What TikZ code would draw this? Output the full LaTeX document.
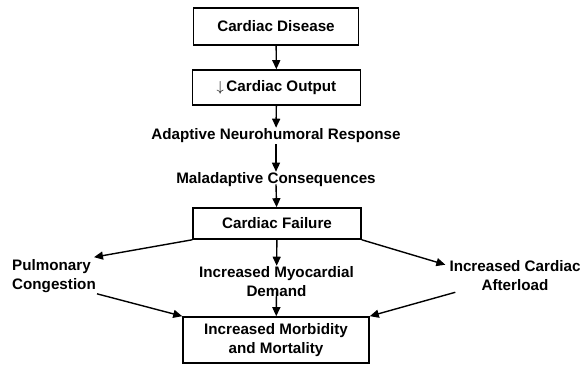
\documentclass[tikz,border=0pt]{standalone}
\usepackage{fontspec}
\setmainfont{Liberation Sans}
\usetikzlibrary{arrows.meta,positioning}
\tikzset{
  box/.style={draw, line width=1.6pt, minimum width=168pt, minimum height=34pt, align=center},
  lbl/.style={align=center, inner sep=1pt},
  arr/.style={line width=1.4pt, -{Triangle[length=9pt,width=8pt]}}
}
\begin{document}
\begin{tikzpicture}[x=1pt,y=-1pt,font=\fontsize{15.2}{19}\selectfont\bfseries]
  \useasboundingbox (0,0) rectangle (583,366);
  \node[box, minimum width=165pt, minimum height=37pt](disease) at (276,26.5) {Cardiac Disease};
  \node[box, minimum height=35pt](output) at (276.5,87.5) {$\downarrow$\,Cardiac Output};
  \node[lbl](adaptive) at (276,136) {Adaptive Neurohumoral Response};
  \node[lbl](maladaptive) at (276,180) {Maladaptive Consequences};
  \node[box, minimum height=31pt](failure) at (277,223.5) {Cardiac Failure};
  \node[lbl, align=left, anchor=west](pulm) at (11,276) {Pulmonary\\Congestion};
  \node[lbl](demand) at (276.5,282) {Increased Myocardial\\Demand};
  \node[lbl](afterload) at (515,276) {Increased Cardiac\\Afterload};
  \node[box, minimum width=186pt, minimum height=46pt](morbid) at (276,340) {Increased Morbidity\\and Mortality};
  \draw[arr](disease)--(output);
  \draw[arr](output)--(adaptive);
  \draw[arr](adaptive)--(maladaptive);
  \draw[arr]([yshift=4pt]maladaptive.south)--(failure);
  \draw[arr](failure)--(demand);
  \draw[arr](failure.south west)--([shift={(-3,-1)}]pulm.north east);
  \draw[arr](failure.south east)--([shift={(-3,5)}]afterload.north west);
  \draw[arr](pulm.south east)--(morbid.north west);
  \draw[arr]([xshift=7pt]afterload.south west)--(morbid.north east);
  \draw[arr]([yshift=7pt]demand.south)--(morbid);
\end{tikzpicture}
\end{document}
